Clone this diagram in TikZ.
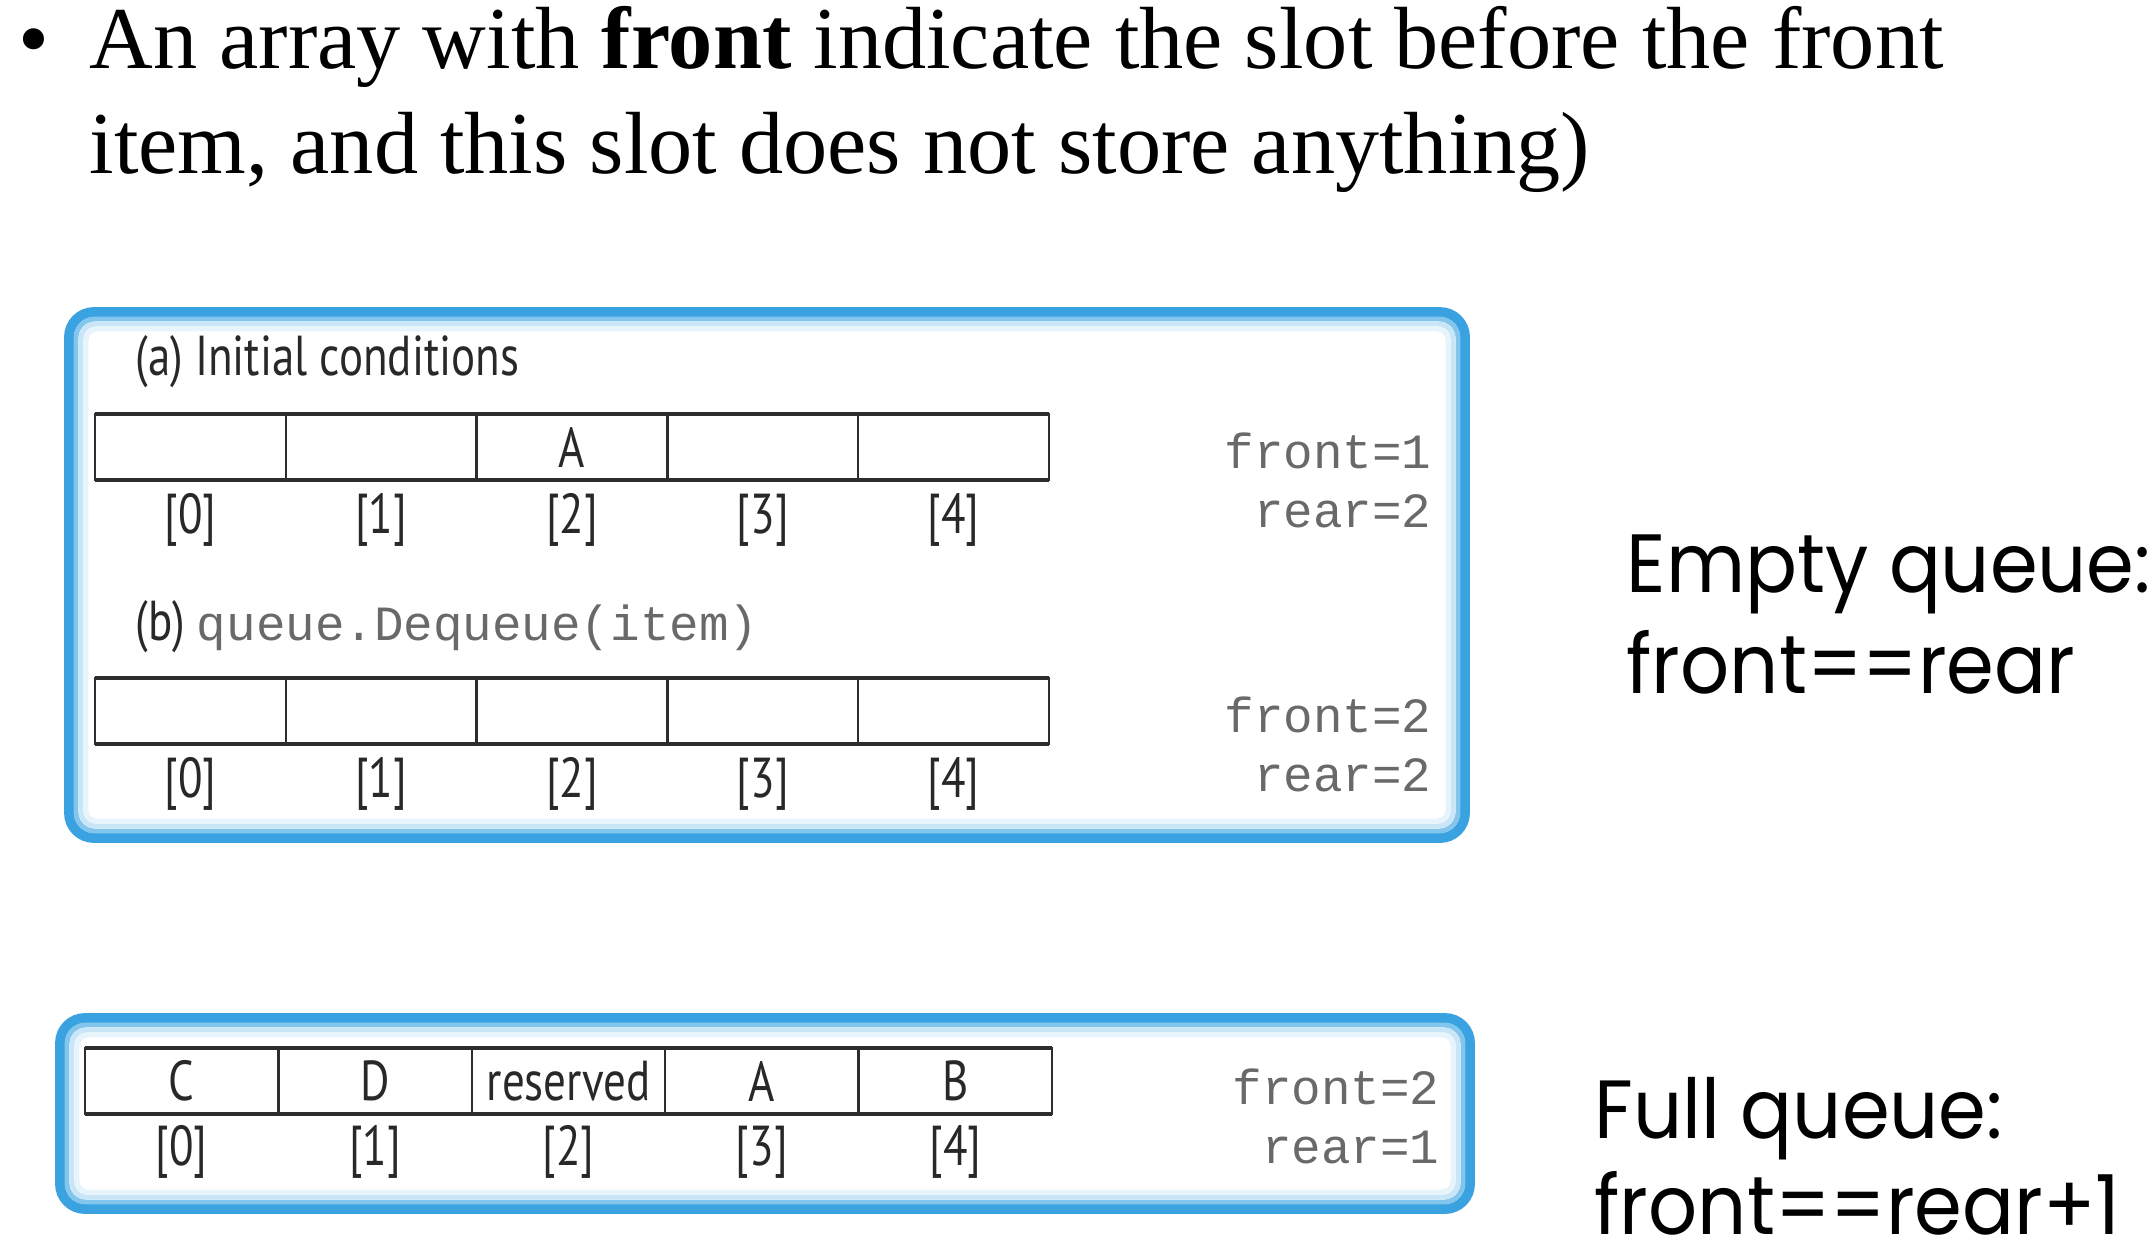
\documentclass[tikz,border=0pt]{standalone}
\usepackage{fontspec}
\setmainfont{Liberation Serif}
\setmonofont{Liberation Mono}
\newfontfamily\labelfont[FakeStretch=0.8]{PT Sans}
\newfontfamily\notefont[FakeStretch=0.93]{Poppins}
\usetikzlibrary{calc}

\definecolor{boxblue}{RGB}{58,162,224}
\definecolor{boxfade}{RGB}{130,198,238}
\definecolor{boxfaint}{RGB}{200,230,248}
\definecolor{boxpale}{RGB}{232,244,252}
\definecolor{cellline}{RGB}{45,45,45}
\definecolor{codegray}{RGB}{105,105,105}
\definecolor{labgray}{RGB}{40,40,40}

\tikzset{
	panel/.style={draw=boxblue, line width=2.8pt, rounded corners=0.25cm},
	panelfade/.style={draw=boxfade, line width=1.4pt, rounded corners=0.19cm},
	panelfaint/.style={draw=boxfaint, line width=1.4pt, rounded corners=0.15cm},
	panelpale/.style={draw=boxpale, line width=1.4pt, rounded corners=0.11cm},
	cellbox/.style={draw=cellline, line width=0.6pt, minimum width=1.908cm, minimum height=0.66cm, inner sep=0pt, outer sep=0pt, font=\labelfont\fontsize{16}{16}\selectfont, text=labgray},
	rowedge/.style={draw=cellline, line width=1.2pt},
	idxlabel/.style={font=\labelfont\fontsize{16}{16}\selectfont, text=labgray, inner sep=0pt},
	codelabel/.style={font=\ttfamily\fontsize{14}{14}\selectfont, text=codegray, inner sep=0pt, anchor=base east},
	heading/.style={font=\fontsize{25.1}{30}\selectfont, anchor=base west, inner sep=0pt},
	sidenote/.style={font=\notefont\fontsize{23.5}{28}\selectfont, anchor=base west, inner sep=0pt}
}

\begin{document}
\begin{tikzpicture}[x=0.01cm, y=-0.01cm]
	\useasboundingbox (0,0) rectangle (2156,1260);
	%\draw[help lines, step=100] (0,0) grid (2156,1260);

	% heading
	\node[heading] (bullet) at (18,68) {•};
	\node[heading] (line1) at (89,68) {An array with \textbf{front} indicate the slot before the front};
	\node[heading] (line2) at (89,173) {item, and this slot does not store anything)};

	% panel with (a) and (b)
	\draw[panel] (69,312) rectangle (1465,838);
	\draw[panelfade] (76,319) rectangle (1458,831);
	\draw[panelfaint] (81,324) rectangle (1453,826);
	\draw[panelpale] (86,329) rectangle (1448,821);

	\node[idxlabel, anchor=base west] (capa) at (135,375) {(a) Initial conditions};
	\foreach \i/\t in {0/,1/,2/A,3/,4/}
		\node[cellbox] (a\i) at (190.4+190.8*\i,447) {\t};
	\draw[rowedge] (a0.north west) -- (a4.north east);
	\draw[rowedge] (a0.south west) -- (a4.south east);
	\foreach \i in {0,...,4}
		\node[idxlabel] (ia\i) at ($(a\i.center)+(0,73)$) {[\i]};
	\node[codelabel] (fronta) at (1432,468) {front=1};
	\node[codelabel] (reara) at (1432,527) {rear=2};

	\node[idxlabel, anchor=base west] (capb) at (135,640) {(b) \textcolor{codegray}{\ttfamily\fontsize{14}{14}\selectfont queue.Dequeue(item)}};
	\foreach \i in {0,...,4}
		\node[cellbox] (b\i) at (190.4+190.8*\i,711) {};
	\draw[rowedge] (b0.north west) -- (b4.north east);
	\draw[rowedge] (b0.south west) -- (b4.south east);
	\foreach \i in {0,...,4}
		\node[idxlabel] (ib\i) at ($(b\i.center)+(0,73)$) {[\i]};
	\node[codelabel] (frontb) at (1432,732) {front=2};
	\node[codelabel] (rearb) at (1432,791) {rear=2};

	% full queue panel
	\draw[panel] (60,1018) rectangle (1470,1209);
	\draw[panelfade] (67,1025) rectangle (1463,1202);
	\draw[panelfaint] (72,1030) rectangle (1458,1197);
	\draw[panelpale] (77,1035) rectangle (1453,1192);

	\foreach \i/\t in {0/C,1/D,2/reserved,3/A,4/B}
		\node[cellbox, minimum width=1.934cm] (c\i) at (181.7+193.4*\i,1081) {\t};
	\draw[rowedge] (c0.north west) -- (c4.north east);
	\draw[rowedge] (c0.south west) -- (c4.south east);
	\foreach \i in {0,...,4}
		\node[idxlabel] (ic\i) at ($(c\i.center)+(0,71)$) {[\i]};
	\node[codelabel] (frontc) at (1440,1104) {front=2};
	\node[codelabel] (rearc) at (1440,1163) {rear=1};

	% side notes
	\node[sidenote] (emptynote) at (1626,592) {Empty queue:};
	\node[sidenote] (emptycond) at (1626,693) {front==rear};
	\node[sidenote] (fullnote) at (1594,1138) {Full queue:};
	\node[sidenote] (fullcond) at (1594,1234) {front==rear+1};
\end{tikzpicture}
\end{document}
